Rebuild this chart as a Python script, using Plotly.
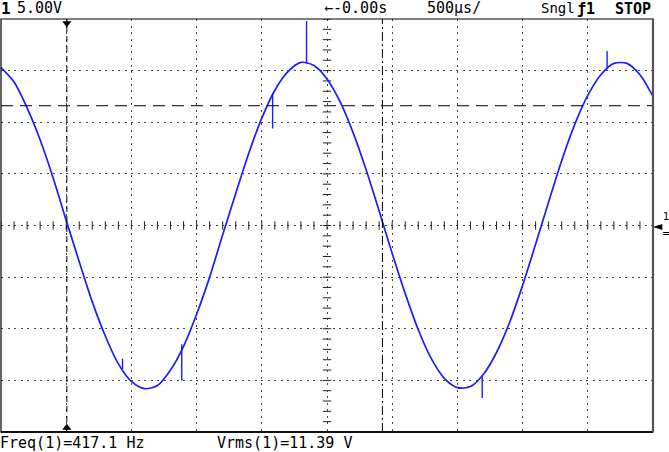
import plotly.graph_objects as go

time_ms = [-2.5, -2.4, -2.3, -2.2, -2.1, -2.0, -1.9, -1.8, -1.7, -1.6,
           -1.5, -1.4, -1.3, -1.2, -1.1, -1.0, -0.9, -0.8, -0.7, -0.6,
           -0.5, -0.4, -0.3, -0.2, -0.1, 0.0, 0.1, 0.2, 0.3, 0.4,
           0.5, 0.6, 0.7, 0.8, 0.9, 1.0, 1.1, 1.2, 1.3, 1.4,
           1.5, 1.6, 1.7, 1.8, 1.9, 2.0, 2.1, 2.2, 2.3, 2.4, 2.5]
volts = [15.3, 13.9, 11.4, 8.3, 4.6, 0.5, -3.5, -7.4, -10.7, -13.4,
         -15.1, -15.8, -15.5, -14.0, -11.7, -8.6, -5.0, -0.9, 3.1, 7.0,
         10.4, 13.1, 14.9, 15.8, 15.5, 14.2, 12.0, 9.0, 5.4, 1.4,
         -2.7, -6.6, -10.1, -12.9, -14.8, -15.7, -15.6, -14.4, -12.3, -9.4,
         -5.8, -1.8, 2.3, 6.3, 9.8, 12.6, 14.6, 15.7, 15.7, 14.6, 12.5]

glitch_t = [-1.568, -1.114, -0.417, -0.157, 1.19, 2.148]
glitch_from = [-13.9, -11.5, 12.8, 15.7, -14.5, 15.2]
glitch_to = [-12.9, -15.0, 9.4, 19.8, -16.7, 16.9]

cursor_t = [-1.995, 0.425]
cursor_v = 11.6

top_labels = {"ch": "1", "scale": "5.00V", "delay": "\u2190-0.00s",
              "timebase": "500\u00b5s/", "mode": "Sngl", "trig": "\u01921",
              "run": "STOP"}
bottom_labels = ["Freq(1)=417.1 Hz", "Vrms(1)=11.39 V"]

X_RANGE = [-2.5, 2.5]
Y_RANGE = [-20, 20]

# pixel helpers (plot area: x 1..653, y 19..432)
L, R, T, B = 1, 653, 19, 432
def px(x):
    return (x - L) / (R - L)
def py(y):
    return (B - y) / (B - T)

fig = go.Figure()

# center axis minor ticks
minor_t = [round(-2.5 + 0.1 * i, 2) for i in range(51)]
minor_v = [-20 + i for i in range(41)]
fig.add_trace(go.Scatter(x=minor_t, y=[0] * len(minor_t), mode="markers",
                         marker=dict(symbol="line-ns", size=6,
                                     line=dict(color="#222", width=1)),
                         hoverinfo="skip", showlegend=False))
fig.add_trace(go.Scatter(x=[0] * len(minor_v), y=minor_v, mode="markers",
                         marker=dict(symbol="line-ew", size=6,
                                     line=dict(color="#222", width=1)),
                         hoverinfo="skip", showlegend=False))

# waveform
fig.add_trace(go.Scatter(x=time_ms, y=volts, mode="lines",
                         line=dict(color="#1c1cff", width=1.7, shape="spline",
                                   smoothing=0.8),
                         hoverinfo="skip", showlegend=False))

# glitches
gx, gy = [], []
for t, a, b in zip(glitch_t, glitch_from, glitch_to):
    gx += [t, t, None]
    gy += [a, b, None]
fig.add_trace(go.Scatter(x=gx, y=gy, mode="lines",
                         line=dict(color="#1c1cff", width=1.4),
                         hoverinfo="skip", showlegend=False))

# cursors
fig.add_shape(type="line", xref="x", yref="paper", x0=cursor_t[0], x1=cursor_t[0],
              y0=0, y1=1, line=dict(color="black", width=1, dash="6px,4px"))
fig.add_shape(type="line", xref="x", yref="paper", x0=cursor_t[1], x1=cursor_t[1],
              y0=0, y1=1, line=dict(color="black", width=1, dash="9px,3px,2px,3px"))
fig.add_shape(type="line", xref="paper", yref="y", x0=0, x1=1, y0=cursor_v, y1=cursor_v,
              line=dict(color="black", width=1, dash="12px,7px"))

# trigger position markers
fig.add_trace(go.Scatter(x=[cursor_t[0], cursor_t[0]], y=[19.6, -19.6], mode="markers",
                         marker=dict(symbol=["triangle-down", "triangle-up"], size=8,
                                     color="black"),
                         cliponaxis=False, hoverinfo="skip", showlegend=False))

# frame
fig.add_shape(type="rect", xref="paper", yref="paper", x0=0, x1=1, y0=0, y1=1,
              line=dict(color="black", width=1.2))
fig.add_shape(type="line", xref="paper", yref="paper", x0=0, x1=1, y0=0, y1=0,
              line=dict(color="#111", width=2.2))
fig.add_shape(type="line", xref="paper", yref="paper", x0=1, x1=1, y0=0, y1=1,
              line=dict(color="#555", width=2.2))

font = dict(family="DejaVu Sans Mono", size=15, color="black")
bold = dict(family="DejaVu Sans Mono", size=15, color="black", weight="bold")

def note(text, x, y, f=font, anchor="left"):
    fig.add_annotation(text=text, xref="paper", yref="paper", x=px(x), y=py(y),
                       xanchor=anchor, yanchor="middle", showarrow=False, font=f)

note(top_labels["ch"], -1, 9, dict(family="DejaVu Sans Mono", size=16, color="black", weight="bold"))
note(top_labels["scale"], 15, 8)
note(top_labels["delay"], 322, 8)
note(top_labels["timebase"], 425, 8)
note(top_labels["mode"], 539, 8, dict(family="DejaVu Sans Mono", size=14, color="black"))
note(top_labels["trig"], 575, 9, bold)
note(top_labels["run"], 613, 9, bold)
note(bottom_labels[0], -2, 443)
note(bottom_labels[1], 215, 443)

# ground reference marker on right
note("\u25c4", 651, 226, dict(family="DejaVu Sans", size=12, color="black"))
note("1", 661, 216, dict(family="DejaVu Sans", size=10, color="black"))
note("=", 660, 233, dict(family="DejaVu Sans", size=10, color="black"))

fig.update_xaxes(range=X_RANGE, dtick=0.5, tick0=0, showgrid=True, gridcolor="#444",
                 gridwidth=1, griddash="2px,4.5px", zeroline=False, showticklabels=False,
                 ticks="", showline=False)
fig.update_yaxes(range=Y_RANGE, dtick=5, tick0=0, showgrid=True, gridcolor="#444",
                 gridwidth=1, griddash="2px,4.5px", zeroline=False, showticklabels=False,
                 ticks="", showline=False)

fig.update_layout(width=669, height=452, margin=dict(l=L, r=669 - R, t=T, b=452 - B),
                  paper_bgcolor="white", plot_bgcolor="white", showlegend=False)

fig.write_html("out.html", config={"displayModeBar": False},
               post_script="document.body.style.margin='0';document.body.style.overflow='hidden';")
